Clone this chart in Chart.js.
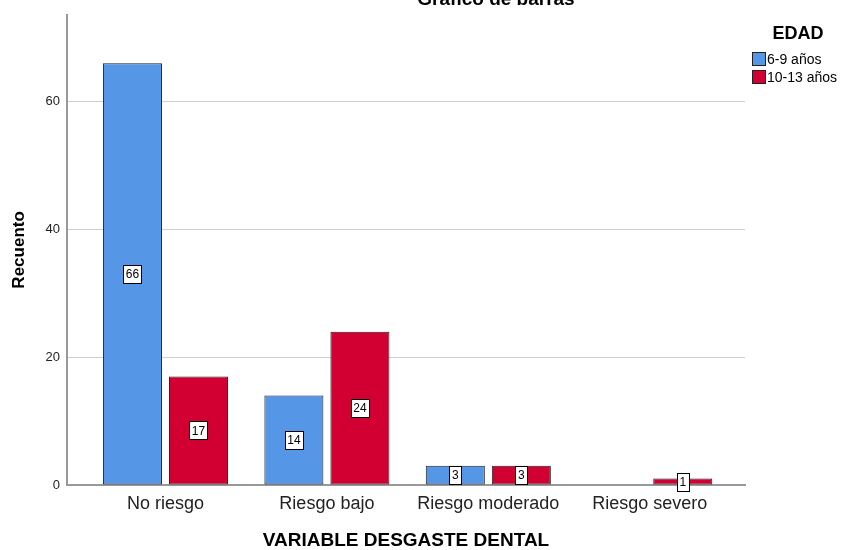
<!DOCTYPE html>
<html><head><meta charset="utf-8">
<script src="https://cdn.jsdelivr.net/npm/chart.js@4.4.0/dist/chart.umd.min.js"></script>
<style>html,body{margin:0;padding:0;background:#fff;overflow:hidden}</style>
</head><body>
<canvas id="c" width="846" height="550"></canvas>
<script>
const categories = ['No riesgo', 'Riesgo bajo', 'Riesgo moderado', 'Riesgo severo'];
const seriesNames = ['6-9 años', '10-13 años'];
const edad69 = [66, 14, 3, 0];
const edad1013 = [17, 24, 3, 1];
const yTicks = [0, 20, 40, 60];
const chartTitle = 'Gráfico de barras';
const xTitle = 'VARIABLE DESGASTE DENTAL';
const yTitle = 'Recuento';
const legendTitle = 'EDAD';

const FONT = '"Liberation Sans", Arial, sans-serif';
const colors = ['#5596e6', '#d20032'];

const toPoints = arr => arr.map((v, i) => ({ x: i, y: v }));

const valueLabels = {
  id: 'valueLabels',
  afterDatasetsDraw(chart) {
    const ctx = chart.ctx;
    ctx.save();
    ctx.font = '12px ' + FONT;
    ctx.textAlign = 'center';
    ctx.textBaseline = 'middle';
    chart.data.datasets.forEach((ds, di) => {
      chart.getDatasetMeta(di).data.forEach((bar, i) => {
        const v = ds.data[i].y;
        if (!v) return;
        const cx = bar.x, cy = (bar.y + bar.base) / 2;
        const t = String(v);
        const w = Math.round(ctx.measureText(t).width + 5), h = 18;
        const l = Math.round(cx - w / 2) + 0.5, tp = Math.round(cy - h / 2) + 0.5;
        ctx.fillStyle = '#fff';
        ctx.fillRect(l, tp, w, h);
        ctx.strokeStyle = '#000';
        ctx.lineWidth = 1;
        ctx.strokeRect(l, tp, w, h);
        ctx.fillStyle = '#000';
        ctx.fillText(t, cx, cy + 1);
      });
    });
    ctx.restore();
  }
};

const extras = {
  id: 'extras',
  afterDraw(chart) {
    const ctx = chart.ctx;
    ctx.save();
    ctx.fillStyle = '#000';
    ctx.font = 'bold 19px ' + FONT;
    ctx.textAlign = 'center';
    ctx.textBaseline = 'alphabetic';
    ctx.fillText(chartTitle, 496, 5);
    ctx.font = 'bold 18px ' + FONT;
    ctx.fillText(legendTitle, 798, 39);
    ctx.font = '14px ' + FONT;
    ctx.textAlign = 'left';
    ctx.textBaseline = 'middle';
    chart.data.datasets.forEach((ds, i) => {
      const y = 52 + i * 18;
      ctx.fillStyle = ds.backgroundColor;
      ctx.fillRect(752.5, y + 0.5, 13, 13);
      ctx.strokeStyle = '#222';
      ctx.lineWidth = 1;
      ctx.strokeRect(752.5, y + 0.5, 13, 13);
      ctx.fillStyle = '#000';
      ctx.fillText(ds.label, 767, y + 8);
    });
    ctx.restore();
  }
};

new Chart(document.getElementById('c'), {
  type: 'bar',
  data: {
    datasets: [
      { label: seriesNames[0], data: toPoints(edad69), backgroundColor: colors[0], borderColor: '#222', borderWidth: 1, borderSkipped: false },
      { label: seriesNames[1], data: toPoints(edad1013), backgroundColor: colors[1], borderColor: '#222', borderWidth: 1, borderSkipped: false }
    ]
  },
  options: {
    responsive: false,
    animation: false,
    devicePixelRatio: 1,
    categoryPercentage: 0.818,
    barPercentage: 0.894,
    layout: { padding: { left: 0, right: 101, top: 13, bottom: 0 } },
    plugins: { legend: { display: false }, title: { display: false }, tooltip: { enabled: false } },
    scales: {
      x: {
        type: 'linear',
        offset: false,
        min: -0.61,
        max: 3.59,
        afterBuildTicks: s => { s.ticks = categories.map((_, i) => ({ value: i })); },
        afterFit: s => { s.height = 65; },
        grid: { display: false, drawTicks: false },
        border: { display: true, color: '#999', width: 2 },
        ticks: {
          autoSkip: false, maxRotation: 0, padding: 8, color: '#222',
          font: { family: FONT, size: 18 },
          callback: v => categories[v] ?? ''
        },
        title: { display: true, text: xTitle, color: '#000', font: { family: FONT, size: 19, weight: 'bold', lineHeight: 1 }, padding: { top: 0, bottom: 0 } }
      },
      y: {
        min: 0,
        max: 73.6,
        afterBuildTicks: s => { s.ticks = yTicks.map(v => ({ value: v })); },
        afterFit: s => { s.width = 67; },
        grid: { color: '#d0d0d0', drawTicks: false, lineWidth: 1 },
        border: { display: true, color: '#999', width: 2 },
        ticks: { padding: 7, color: '#222', font: { family: FONT, size: 13 } },
        title: { display: true, text: yTitle, color: '#000', font: { family: FONT, size: 17, weight: 'bold' }, padding: { top: 9, bottom: 0 } }
      }
    }
  },
  plugins: [valueLabels, extras]
});
</script>
</body></html>
